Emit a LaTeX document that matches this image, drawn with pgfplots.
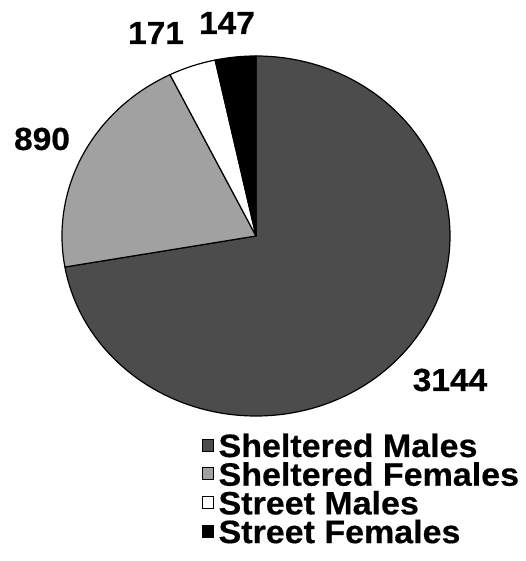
\documentclass[border=0pt]{standalone}
\usepackage{pgfplots}
\pgfplotsset{compat=1.18}
\usepackage{pgfplotstable}
\usepackage{fontspec}
\setmainfont{Liberation Sans}[BoldFeatures={FakeStretch=1.05, FakeBold=0.5}]
\definecolor{darkg}{gray}{0.30}
\definecolor{lightg}{gray}{0.63}
\pgfplotstableread{
name value shade
SM 3144 darkg
SF 890 lightg
StM 171 white
StF 147 black
}\piedata
\begin{document}
\begin{tikzpicture}
\begin{axis}[hide axis, x=1bp, y=1bp, xmin=0, xmax=526, ymin=0, ymax=561,
  scale only axis, clip=false,
  legend image code/.code={\filldraw[#1, draw=black, line width=0.6bp] (0bp,-3.5bp) rectangle (11bp,8.5bp);},
  legend cell align=left,
  legend style={at={(axis cs:202,128)}, anchor=north west, draw=none, fill=none,
    inner sep=0pt, outer sep=0pt, row sep=0pt, column sep=5bp,
    nodes={inner sep=0pt, outer sep=0pt, text height=24bp, text depth=4.7bp},
    font=\bfseries\fontsize{32.5}{32.5}\selectfont}]
\path (axis cs:0,0) rectangle (axis cs:526,561);
\pgfplotsextra{%
  \gdef\pietotal{0}%
  \foreach \i in {0,...,3}{%
    \pgfplotstablegetelem{\i}{value}\of\piedata
    \pgfmathsetmacro\tmp{\pietotal+\pgfplotsretval}%
    \xdef\pietotal{\tmp}%
  }%
  \gdef\piestart{90}%
  \foreach \i in {0,...,3}{%
    \pgfplotstablegetelem{\i}{value}\of\piedata
    \pgfmathsetmacro\pieend{\piestart-\pgfplotsretval/\pietotal*360}%
    \pgfplotstablegetelem{\i}{shade}\of\piedata
    \edef\pieshade{\pgfplotsretval}%
    \filldraw[fill=\pieshade, draw=black, line width=1.2bp, line join=round]
      (axis cs:256,325) -- ++(\piestart:194bp and 180bp)
      arc[start angle=\piestart, end angle=\pieend, x radius=194bp, y radius=180bp] -- cycle;
    \xdef\piestart{\pieend}%
  }%
}
\begin{scope}[every node/.style={inner sep=0pt, font=\bfseries\fontsize{32}{32}\selectfont}]
\node at (axis cs:227,538) {147};
\node at (axis cs:156,528) {171};
\node at (axis cs:42,422) {890};
\node at (axis cs:450,181) {3144};
\end{scope}
\addlegendimage{fill=darkg}\addlegendentry{Sheltered Males}
\addlegendimage{fill=lightg}\addlegendentry{Sheltered Females}
\addlegendimage{fill=white}\addlegendentry{Street Males}
\addlegendimage{fill=black}\addlegendentry{Street Females}
\end{axis}
\end{tikzpicture}
\end{document}
